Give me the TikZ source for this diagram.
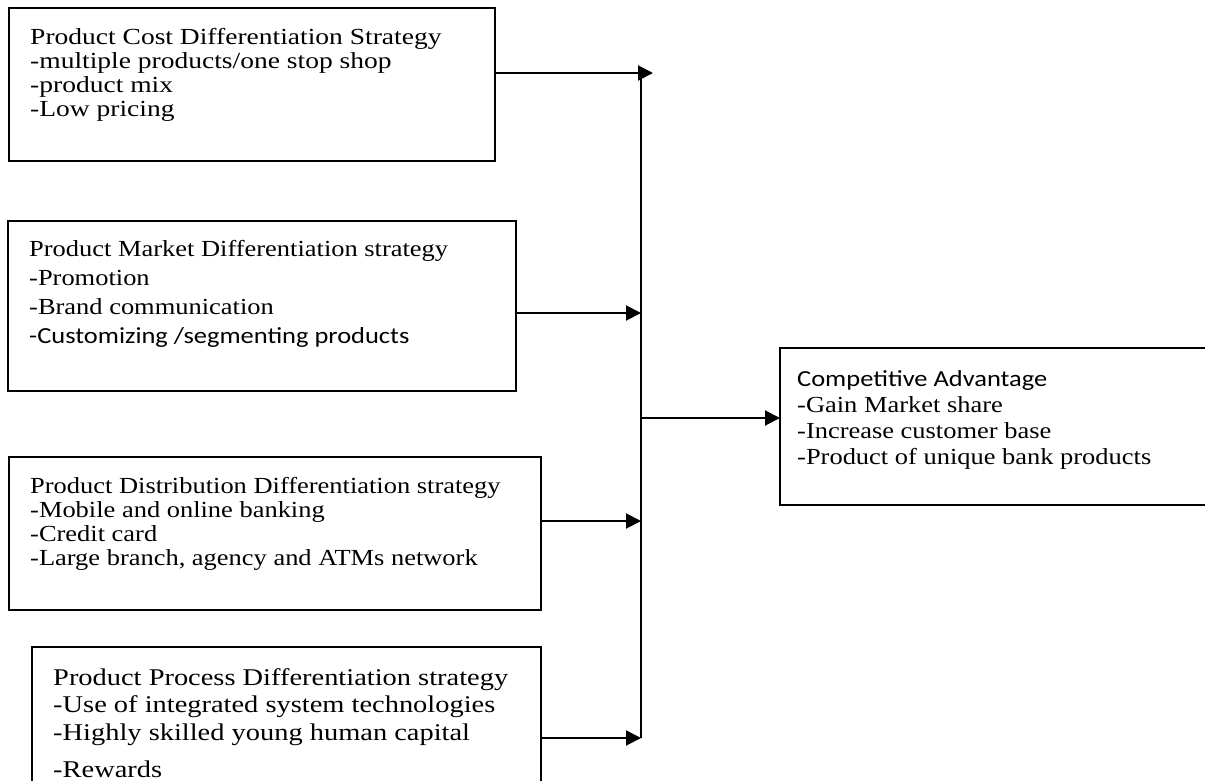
\documentclass[tikz,border=0pt]{standalone}
\usepackage{fontspec}
\setmainfont[FakeStretch=1.15]{Liberation Serif}
\newfontfamily\calfont[FakeStretch=1.15]{Carlito}
\usetikzlibrary{arrows.meta}
\tikzset{
  box/.style={draw=black, line width=1.4pt, fill=none, inner sep=0pt},
  txt/.style={anchor=north west, inner sep=0pt, align=left, font=\fontsize{23}{24}\selectfont},
  conn/.style={draw=black, line width=2pt},
  arr/.style={conn, -{Triangle[length=15pt,width=15pt]}},
}
\begin{document}
\begin{tikzpicture}[x=1pt,y=-1pt]
\useasboundingbox (0,0) rectangle (1205,780);
\fill[white] (0,0) rectangle (1205,780);
% boxes
\draw[box] (9,8) rectangle (495,161);
\draw[box] (8,221) rectangle (516,391);
\draw[box] (9,457) rectangle (541,610);
\draw[box] (32,647) rectangle (541,800);
\draw[box] (780,348) rectangle (1225,505);
% anchors
\coordinate (b1) at (495,73);
\coordinate (b2) at (516,313);
\coordinate (b3) at (541,521);
\coordinate (b4) at (541,738);
\coordinate (top) at (641,73);
\coordinate (bot) at (641,738);
\coordinate (mid) at (641,418);
\coordinate (b5) at (780,418);
\coordinate (t1) at (653,73);
% texts
\node[txt, xscale=1.04, transform shape] (l1) at (30,28) {Product Cost Differentiation Strategy\\-multiple products/one stop shop\\-product mix\\-Low pricing};
\node[txt, font=\fontsize{23}{29}\selectfont] (l2) at (29,240) {Product Market Differentiation strategy\\-Promotion\\-Brand communication\\{\calfont -Customizing /segmenting products}};
\node[txt] (l3) at (30,477) {Product Distribution Differentiation strategy\\-Mobile and online banking\\-Credit card\\-Large branch, agency and ATMs network};
\node[txt, font=\fontsize{24}{27.5}\selectfont, xscale=1.03, transform shape] (l4) at (53,668) {Product Process Differentiation strategy\\-Use of integrated system technologies\\-Highly skilled young human capital\\[10pt]-Rewards};
\node[txt, font=\fontsize{23}{26}\selectfont] (l5) at (797,370) {{\calfont Competitive Advantage}\\-Gain Market share\\-Increase customer base\\-Product of unique bank products};
% connectors
\draw[conn] (top) -- (bot);
\draw[arr] (b1) -- (t1);
\draw[arr] (b2) -- (b2 -| top);
\draw[arr] (b3) -- (b3 -| top);
\draw[arr] (b4) -- (bot);
\draw[arr] (mid) -- (b5);
\end{tikzpicture}
\end{document}
